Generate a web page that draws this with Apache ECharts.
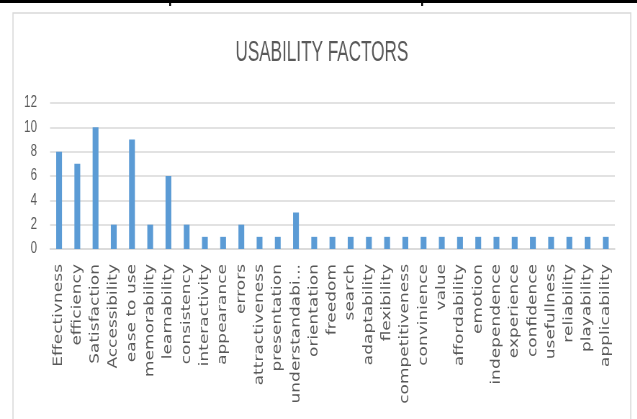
<!DOCTYPE html>
<html>
<head>
<meta charset="utf-8">
<script src="https://cdn.jsdelivr.net/npm/echarts@6/dist/echarts.min.js"></script>
<style>
  html, body { margin: 0; padding: 0; background: #fff; overflow: hidden; }
  /* the reference picture is squeezed sideways, so draw wide and squeeze */
  #main { width: 885px; height: 419px; transform: scaleX(0.72); transform-origin: 0 0; }
</style>
</head>
<body>
<div id="main"></div>
<script>
var factors = ['Effectivness', 'efficiency', 'Satisfaction', 'Accessibility', 'ease to use',
  'memorability', 'learnability', 'consistency', 'interactivity', 'appearance', 'errors',
  'attractiveness', 'presentation', 'understandability', 'orientation', 'freedom', 'search',
  'adaptability', 'flexibility', 'competitiveness', 'convinience', 'value', 'affordability',
  'emotion', 'independence', 'experience', 'confidence', 'usefullness', 'reliability',
  'playability', 'applicability'];
var counts = [8, 7, 10, 2, 9, 2, 6, 2, 1, 1, 2, 1, 1, 3,
  1, 1, 1, 1, 1, 1, 1, 1, 1, 1, 1, 1, 1, 1, 1, 1, 1];
var titleText = 'USABILITY FACTORS';

var myChart = echarts.init(document.getElementById('main'));

var option = {
  animation: false,
  graphic: [
    // black rule across the top of the page
    { type: 'rect', shape: { x: 0, y: 0, width: 885, height: 3 }, style: { fill: '#000' } },
    { type: 'rect', shape: { x: 235, y: 0, width: 2.5, height: 6 }, style: { fill: '#000' } },
    { type: 'rect', shape: { x: 585, y: 0, width: 2.5, height: 6 }, style: { fill: '#000' } },
    // chart frame
    { type: 'rect', shape: { x: 18, y: 13, width: 858, height: 430 },
      style: { fill: 'none', stroke: '#d9d9d9', lineWidth: 1.5 } },
    { type: 'text', x: 447, y: 53, scaleX: 0.82,
      style: { text: titleText, textAlign: 'center', textVerticalAlign: 'middle',
        font: '29px "Liberation Sans"', fill: '#595959' } }
  ],
  grid: { left: 69.4, right: 31, top: 103, bottom: 170 },
  xAxis: {
    type: 'category',
    data: factors,
    axisLine: { lineStyle: { color: '#d9d9d9', width: 1.5 } },
    axisTick: { show: false },
    axisLabel: {
      interval: 0,
      rotate: 90,
      margin: 15,
      fontFamily: 'DejaVu Sans',
      fontSize: 17,
      color: '#595959',
      formatter: function (v) { return v.length > 15 ? v.slice(0, 13) + '...' : v; }
    }
  },
  yAxis: {
    type: 'value',
    min: 0,
    max: 12,
    interval: 2,
    axisLine: { show: false },
    axisTick: { show: false },
    axisLabel: { fontFamily: 'Liberation Sans', fontSize: 16, color: '#595959', margin: 18 },
    splitLine: { lineStyle: { color: '#d9d9d9', width: 1.5 } }
  },
  series: [{
    type: 'bar',
    data: counts,
    barWidth: '32%',
    itemStyle: { color: '#5b9bd5' }
  }]
};
myChart.setOption(option);
</script>
</body>
</html>
